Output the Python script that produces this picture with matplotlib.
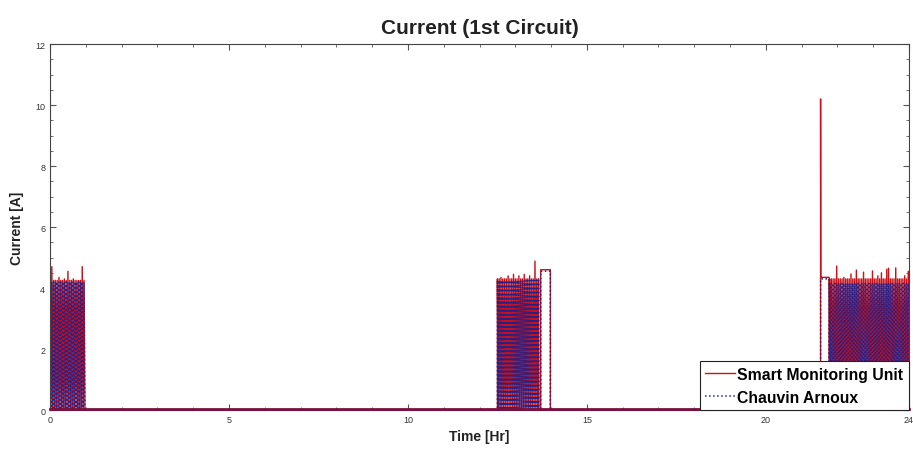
import numpy as np
import matplotlib
matplotlib.use("Agg")
import matplotlib.pyplot as plt
from matplotlib.ticker import MultipleLocator

plt.rcParams['font.family'] = ['Liberation Sans', 'DejaVu Sans']

# cycling bursts (hr) and their steady on-levels (A)
burst_start = [0.0, 12.5, 21.78]
burst_end = [1.0, 13.66, 24.0]
burst_smu = [4.25, 4.3, 4.3]
burst_ca = [4.2, 4.25, 4.15]

# long uninterrupted pulses
wide_start = [13.71, 21.53]
wide_end = [13.98, 21.77]
wide_smu = [4.6, 4.35]
wide_ca = [4.55, 4.3]
wide_peak_smu = [4.6, 10.2]

# visible overshoot peaks of the Smart Monitoring Unit
spike_t = [0.08, 0.25, 0.39, 0.5, 0.64, 0.78, 0.92,
           12.62, 12.8, 12.95, 13.1, 13.25, 13.4, 13.55,
           21.99, 22.2, 22.39, 22.53, 22.74, 22.98, 23.13, 23.24, 23.37,
           23.46, 23.65, 23.88, 23.99]
spike_a = [4.7, 4.35, 4.3, 4.55, 4.3, 4.25, 4.7,
           4.35, 4.4, 4.45, 4.4, 4.45, 4.4, 4.88,
           4.72, 4.35, 4.46, 4.59, 4.52, 4.56, 4.4, 4.5, 4.62,
           4.65, 4.66, 4.4, 4.55]

x_ticks = [0, 5, 10, 15, 20, 24]

dt = 0.025  # logger switching step inside a burst


def series(levels, wide_levels, wide_peaks, spikes):
    t, y = [0.0], [0.0]
    ev = [(s, e, lv, lv, 'b') for s, e, lv in zip(burst_start, burst_end, levels)]
    ev += [(s, e, lv, pk, 'w') for s, e, lv, pk in zip(wide_start, wide_end, wide_levels, wide_peaks)]
    for s, e, lv, pk, kind in sorted(ev):
        if kind == 'b':
            ts = np.arange(s, e, dt)
            ys = np.where(np.arange(len(ts)) % 2 == 0, lv, 0.0)
            if spikes:
                for st, sa in zip(spike_t, spike_a):
                    if s <= st <= e:
                        i = int(round((st - s) / dt))
                        i = min(i - i % 2, len(ts) - 1)
                        ys[i] = sa
            t += [s] + list(ts) + [e]
            y += [0.0] + list(ys) + [0.0]
        else:
            t += [s, s, s + 0.005, e, e]
            y += [0.0, pk, lv, lv, 0.0]
    t.append(24.0)
    y.append(0.0)
    return t, y


t_smu, y_smu = series(burst_smu, wide_smu, wide_peak_smu, True)
t_ca, y_ca = series(burst_ca, wide_ca, wide_ca, False)

fig = plt.figure(figsize=(9.13, 4.52), dpi=100)
ax = fig.add_axes([0.0548, 0.0907, 0.9408, 0.8097])

ax.plot(t_smu, y_smu, color='#c81018', lw=1.0, label='Smart Monitoring Unit')
ax.plot(t_ca, y_ca, color='#22228a', lw=1.1, ls=':', label='Chauvin Arnoux')
ax.axhline(0.03, color='#7a1040', lw=2.0, zorder=3, clip_on=False)

ax.set_xlim(0, 24)
ax.set_ylim(0, 12)
ax.set_xticks(x_ticks)
ax.xaxis.set_minor_locator(MultipleLocator(1))
ax.yaxis.set_major_locator(MultipleLocator(2))
ax.yaxis.set_minor_locator(MultipleLocator(0.5))
ax.tick_params(which='both', direction='in', top=True, right=True,
               colors='#555555', labelsize=6.5, labelcolor='#333333')
ax.tick_params(which='major', length=4)
ax.tick_params(which='minor', length=2)
for sp in ax.spines.values():
    sp.set_color('#444444')
    sp.set_linewidth(0.8)

ax.set_title('Current (1st Circuit)', fontsize=15, fontweight='bold', color='#222222', pad=8)
ax.set_xlabel('Time [Hr]', fontsize=10, fontweight='bold', color='#222222', labelpad=4)
ax.set_ylabel('Current [A]', fontsize=10, fontweight='bold', color='#222222', labelpad=8)

leg = ax.legend(loc='lower right', prop={'weight': 'bold', 'size': 11.3},
                fancybox=False, edgecolor='#222222', framealpha=1,
                handlelength=1.9, handletextpad=0.15, borderpad=0.35,
                labelspacing=0.5, borderaxespad=0.0)
leg.get_frame().set_linewidth(0.8)
leg.set_zorder(5)

fig.savefig('out.png', dpi=100)
